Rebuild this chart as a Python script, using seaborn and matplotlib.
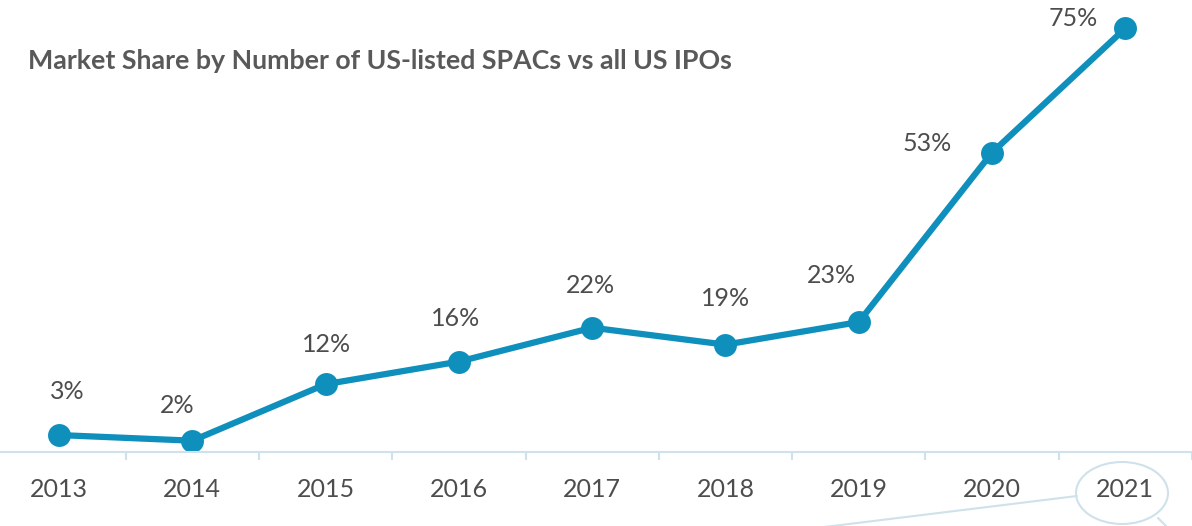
import matplotlib
matplotlib.use("Agg")
import matplotlib.pyplot as plt
import seaborn as sns
from matplotlib.patches import Ellipse
from matplotlib.lines import Line2D

# Chart data
years = ["2013", "2014", "2015", "2016", "2017", "2018", "2019", "2020", "2021"]
share = [3, 2, 12, 16, 22, 19, 23, 53, 75]

# hand-placed label offsets (pixels from the point), like the original
label_dx = [8, -15, 1, -3, -2, 0, -27, -65, -52]
label_dy = [44, 35, 40, 43, 42, 46, 47, 9, 10]

line_color = "#0E8FBC"
text_color = "#4D4D4D"
title_color = "#595959"
axis_color = "#CFE1EB"

sns.set_theme(style="white")
plt.rcParams["font.family"] = ["Lato", "DejaVu Sans"]

W, H = 1192, 526
fig = plt.figure(figsize=(W / 100, H / 100), dpi=100)
ax = fig.add_axes([0, 1 - 452 / H, 1, 452 / H])

sns.lineplot(x=years, y=share, ax=ax, color=line_color, linewidth=4.5,
             marker="o", markersize=16.5, markeredgewidth=0, sort=False)

for i, v in enumerate(share):
    ax.annotate(f"{v}%", (i, v), xytext=(label_dx[i], label_dy[i]),
                textcoords="offset pixels", ha="center", va="center",
                fontsize=18, color=text_color)

ax.set_xlim(-0.443, 8.5)
ax.set_ylim(0, 80)
ax.set_yticks([])
ax.set_xlabel("")
ax.set_ylabel("")
for side in ["top", "left", "right"]:
    ax.spines[side].set_visible(False)
ax.spines["bottom"].set_color(axis_color)
ax.spines["bottom"].set_linewidth(1.5)

ax.set_xticks(range(len(years)))
ax.set_xticklabels(years)
ax.tick_params(axis="x", length=0, pad=19, labelsize=18, labelcolor=text_color)
ax.set_xticks([i + 0.5 for i in range(len(years))], minor=True)
ax.tick_params(axis="x", which="minor", bottom=True, length=6, width=1.5,
               color=axis_color)

fig.text(28 / W, 1 - 61 / H, "Market Share by Number of US-listed SPACs vs all US IPOs",
         fontsize=19.3, fontweight="bold", color=title_color, ha="left", va="center")

# circle around 2021 and connector line
fig.add_artist(Ellipse((1122 / W, 1 - 493 / H), 92 / W, 62 / H,
                       transform=fig.transFigure, fill=False,
                       edgecolor=axis_color, linewidth=1.5))
fig.add_artist(Line2D([1077 / W, 800 / W], [1 - 496 / H, 1 - 530 / H],
                      transform=fig.transFigure, color=axis_color, linewidth=1.5))
fig.add_artist(Line2D([1158 / W, 1168 / W], [1 - 518 / H, 1 - 528 / H],
                      transform=fig.transFigure, color=axis_color, linewidth=1.5))

fig.savefig("out.png", dpi=100)
